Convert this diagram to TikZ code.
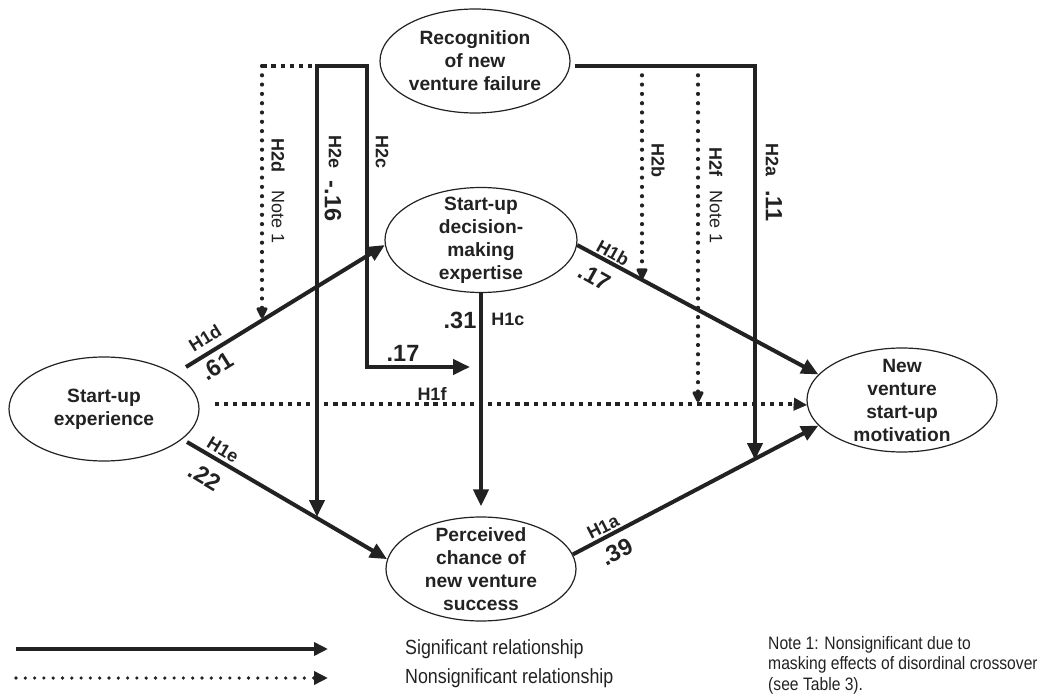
\documentclass[tikz,border=0pt]{standalone}
\usepackage{fontspec}
\setmainfont{Liberation Sans}
\newfontfamily\narrowfont[FakeStretch=0.87]{Liberation Sans}
\usetikzlibrary{shapes.geometric,arrows.meta}
\definecolor{ink}{HTML}{222222}
\begin{document}
\begin{tikzpicture}[x=1pt,y=-1pt,
  var/.style={ellipse,draw=ink,line width=1.2pt,minimum width=190pt,minimum height=104pt,inner sep=0pt},
  vtext/.style={align=center,inner sep=0pt,text=ink,font=\fontsize{19.2}{23}\selectfont\bfseries},
  sig/.style={draw=ink,line width=4pt,line join=miter,-{Triangle[length=17pt,width=15pt]}},
  nsig/.style={draw=ink,line width=4.2pt,line cap=round,dash pattern=on 0pt off 9.3pt,-{Triangle[length=13pt,width=12pt,round=false]}},
  nsq/.style={draw=ink,line width=4.2pt,dash pattern=on 4.2pt off 4.9pt},
  hl/.style={inner sep=0pt,text=ink,font=\fontsize{18}{20}\selectfont\bfseries},
  num/.style={inner sep=0pt,text=ink,font=\fontsize{23.5}{26}\selectfont\bfseries},
  note/.style={inner sep=0pt,text=ink,font=\fontsize{18}{20}\selectfont},
  legtext/.style={inner sep=0pt,text=ink,font=\narrowfont\fontsize{20.5}{23}\selectfont},
  notetext/.style={inner sep=0pt,text=ink,font=\narrowfont\fontsize{18}{20.5}\selectfont},
]
\useasboundingbox (0,0) rectangle (1037,695);

% variables
\node[var] (rec) at (475,61) {};
\node[vtext] at (rec) {Recognition\\of new\\venture failure};
\node[var,minimum width=192pt,minimum height=105pt] (dec) at (481,240) {};
\node[vtext] at (dec) {Start-up\\decision-\\making\\expertise};
\node[var] (exp) at (104,409) {};
\node[vtext] at (exp) {Start-up\\experience};
\node[var] (per) at (481,569) {};
\node[vtext] at (per) {Perceived\\chance of\\new venture\\success};
\node[var] (mot) at (902,400) {};
\node[vtext] at (mot) {New\\venture\\start-up\\motivation};

% free ends
\coordinate (h1d-s) at (186,367);
\coordinate (h1e-s) at (187,442);
\coordinate (h1f-s) at (215,404);
\coordinate (lt) at (317,66);
\coordinate (rt) at (367,66);
\coordinate (dt) at (262,66);
\coordinate (rs) at (575,66);
\coordinate (h2a-c) at (755,66);
\coordinate (h2b-t) at (642,66);
\coordinate (h2f-t) at (698,66);
\coordinate (h2d-e) at (262,318);
\coordinate (h2e-e) at (317,517);
\coordinate (h2c-c) at (367,367);
\coordinate (h2c-e) at (470,367);
\coordinate (h2b-e) at (642,279);
\coordinate (h2f-e) at (698,402);
\coordinate (h2a-e) at (755,460);

% main paths
\draw[sig] (h1d-s) -- (dec.183);
\draw[sig] (h1e-s) -- (per.174);
\draw[nsq] (h1f-s) -- (792,404);
\draw[draw=ink,-{Triangle[length=13pt,width=13pt]},line width=0.1pt] (790,404) -- (mot.183);
\draw[sig] (dec.357) -- (mot.163);
\draw[sig] (per.9) -- (mot.197);
\draw[sig,shorten >=10pt] (dec.south) -- (per.north);

% moderator paths
\draw[sig] (rt) -- (lt) -- (h2e-e);
\draw[sig] (lt) -- (rt) -- (h2c-c) -- (h2c-e);
\draw[nsq] (312,66) -- (dt);
\draw[nsig] (dt) -- (h2d-e);
\draw[sig] (rs) -- (h2a-c) -- (h2a-e);
\draw[nsig] (h2b-t) -- (h2b-e);
\draw[nsig] (h2f-t) -- (h2f-e);

% path labels
\node[hl,rotate=32] at (205,338) {H1d};
\node[num,rotate=32] at (217,366) {.61};
\node[hl,rotate=-31] at (223,450) {H1e};
\node[num,rotate=-31] at (205,477) {.22};
\node[hl] at (432,394) {H1f};
\node[num] at (460,320) {.31};
\node[hl] at (508,319) {H1c};
\node[num] at (403,353) {.17};
\node[hl,rotate=-29] at (613,253) {H1b};
\node[num,rotate=-29] at (595,277) {.17};
\node[hl,rotate=27] at (603,527) {H1a};
\node[num,rotate=27] at (617,552) {.39};

\node[hl,rotate=-90] at (278,156) {H2d};
\node[note,rotate=-90] at (278,217) {Note 1};
\node[hl,rotate=-90] at (335,152) {H2e};
\node[num,rotate=-90] at (333,201) {-.16};
\node[hl,rotate=-90] at (382,152) {H2c};
\node[hl,rotate=-90] at (658,161) {H2b};
\node[hl,rotate=-90] at (716,162) {H2f};
\node[note,rotate=-90] at (716,217) {Note 1};
\node[hl,rotate=-90] at (772,160) {H2a};
\node[num,rotate=-90] at (774,206) {.11};

% legend
\coordinate (ls1) at (16,649);
\coordinate (le1) at (328,649);
\coordinate (ls2) at (16,678);
\coordinate (le2) at (328,678);
\draw[sig,-{Triangle[length=14pt,width=13pt]}] (ls1) -- (le1);
\draw[nsig,line width=3.6pt,-{Triangle[length=14pt,width=13pt]}] (ls2) -- (le2);
\node[legtext,anchor=west] (l1) at (405,649) {Significant relationship};
\node[legtext,anchor=west] (l2) at (405,678) {Nonsignificant relationship};
\node[notetext,anchor=north west,align=left] (n1) at (768,636) {Note 1: Nonsignificant due to\\masking effects of disordinal crossover\\(see Table 3).};
\end{tikzpicture}
\end{document}
